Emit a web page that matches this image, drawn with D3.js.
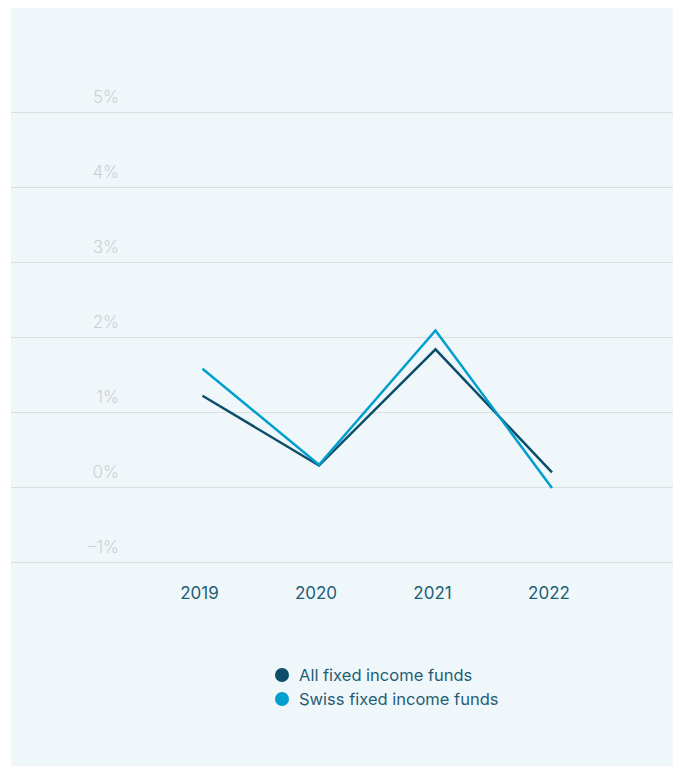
<!DOCTYPE html>
<html>
<head>
<meta charset="utf-8">
<script src="https://cdn.jsdelivr.net/npm/d3@7"></script>
<style>
  html, body { margin: 0; padding: 0; background: #ffffff; }
  svg { display: block; font-family: Inter, "Noto Sans", sans-serif; }
</style>
</head>
<body>
<div id="chart"></div>
<script>
const years = ['2019', '2020', '2021', '2022'];
const allFunds = [1.22, 0.29, 1.84, 0.20];
const swissFunds = [1.58, 0.30, 2.09, -0.01];
const yTicks = [-1, 0, 1, 2, 3, 4, 5];
const seriesNames = ['All fixed income funds', 'Swiss fixed income funds'];

const width = 673;
const height = 767;
const colors = ['#0c4e69', '#009fcd'];

const svg = d3.select('#chart')
    .append('svg')
    .attr('width', width)
    .attr('height', height);

// panel background
svg.append('rect')
    .attr('x', 11)
    .attr('y', 8)
    .attr('width', width - 11)
    .attr('height', 758)
    .attr('fill', '#eff7fb');

const x = d3.scalePoint()
    .domain(years)
    .range([202.5, 552]);

const y = d3.scaleLinear()
    .domain([-1, 5])
    .range([562.3, 112.3]);

// gridlines
svg.append('g')
    .selectAll('line')
    .data(yTicks)
    .enter()
    .append('line')
    .attr('x1', 11)
    .attr('x2', width)
    .attr('y1', d => Math.round(y(d)) + 0.5)
    .attr('y2', d => Math.round(y(d)) + 0.5)
    .attr('stroke', '#dcdee0')
    .attr('stroke-width', 1);

// y labels
svg.append('g')
    .selectAll('text')
    .data(yTicks)
    .enter()
    .append('text')
    .attr('x', 119)
    .attr('y', d => y(d) - 9)
    .attr('text-anchor', 'end')
    .attr('fill', '#cdcfd1')
    .style('font-size', '17px')
    .style('font-weight', 300)
    .text(d => (d < 0 ? '\u2013' + Math.abs(d) : d) + '%');

// x labels
svg.append('g')
    .selectAll('text')
    .data(years)
    .enter()
    .append('text')
    .attr('x', d => x(d) - 3)
    .attr('y', 599)
    .attr('text-anchor', 'middle')
    .attr('fill', '#1f5e74')
    .style('font-size', '17px')
    .text(d => d);

// lines
const line = d3.line()
    .x((d, i) => x(years[i]))
    .y(d => y(d));

[allFunds, swissFunds].forEach((values, i) => {
    svg.append('path')
        .datum(values)
        .attr('d', line)
        .attr('fill', 'none')
        .attr('stroke', colors[i])
        .attr('stroke-width', 2.5)
        .attr('stroke-linejoin', 'miter');
});

// legend
const legend = svg.append('g')
    .selectAll('g')
    .data(seriesNames)
    .enter()
    .append('g')
    .attr('transform', (d, i) => `translate(282,${675 + i * 24})`);

legend.append('circle')
    .attr('r', 7)
    .attr('fill', (d, i) => colors[i]);

legend.append('text')
    .attr('x', 17)
    .attr('y', 6)
    .attr('fill', '#1f5e74')
    .style('font-size', '16.5px')
    .text(d => d);
</script>
</body>
</html>
